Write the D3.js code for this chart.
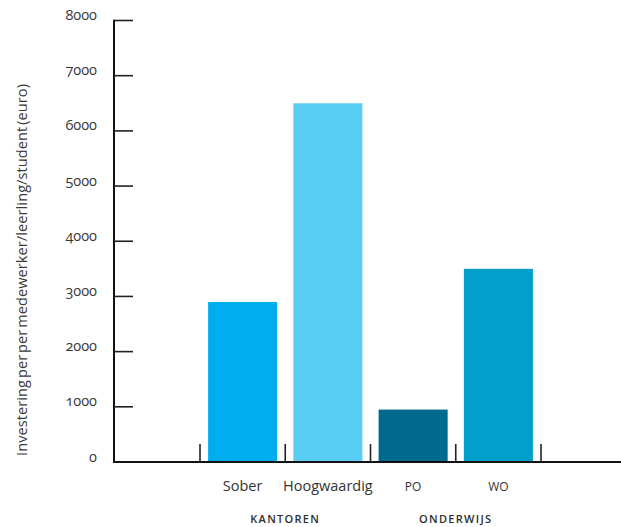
<!DOCTYPE html>
<html>
<head>
<meta charset="utf-8">
<script src="https://cdn.jsdelivr.net/npm/d3@7"></script>
<style>
  html, body { margin: 0; padding: 0; background: #fff; }
  svg { display: block; font-family: "Open Sans", sans-serif; }
</style>
</head>
<body>
<svg id="chart" width="621" height="527"></svg>
<script>
// Investment per employee / pupil / student, in euros
const categories = ["Sober", "Hoogwaardig", "PO", "WO"];
const values = [2900, 6500, 950, 3500];
const barColors = ["#00aeef", "#59cdf4", "#006a8e", "#00a0cb"];
const groups = [
  { name: "KANTOREN", members: ["Sober", "Hoogwaardig"] },
  { name: "ONDERWIJS", members: ["PO", "WO"] }
];
const yTicks = [0, 1000, 2000, 3000, 4000, 5000, 6000, 7000, 8000];
const yTitle = "Investering per per medewerker/leerling/student (euro)";

const svg = d3.select("#chart");

const axisLeft = 114, axisBottom = 462, axisTop = 20.5;

const y = d3.scaleLinear().domain([0, 8000]).range([axisBottom, axisTop]);
const x = d3.scaleBand()
  .domain(categories)
  .range([200, 541])
  .paddingInner(0.19)
  .paddingOuter(0.095);
const step = x.step();

// bars
svg.append("g").selectAll("rect")
  .data(categories)
  .join("rect")
  .attr("x", d => x(d))
  .attr("width", x.bandwidth())
  .attr("y", (d, i) => y(values[i]))
  .attr("height", (d, i) => y(0) - y(values[i]))
  .attr("fill", (d, i) => barColors[i]);

// y axis: line, inward ticks, labels
const yAxis = svg.append("g");
yAxis.append("line")
  .attr("x1", axisLeft).attr("x2", axisLeft)
  .attr("y1", y(8000) - 0.75).attr("y2", axisBottom + 1)
  .attr("stroke", "#111").attr("stroke-width", 2);
yAxis.selectAll("line.tick")
  .data(yTicks.filter(t => t > 0))
  .join("line")
  .attr("class", "tick")
  .attr("x1", axisLeft).attr("x2", 133)
  .attr("y1", d => y(d)).attr("y2", d => y(d))
  .attr("stroke", "#222").attr("stroke-width", 1.6);
yAxis.selectAll("text")
  .data(yTicks)
  .join("text")
  .attr("x", 97)
  .attr("y", d => y(d) - 0.5)
  .attr("text-anchor", "end")
  .attr("font-size", 14.5)
  .attr("fill", "#3a3a3a")
  .style("font-variant-numeric", "oldstyle-nums")
  .text(d => d);

// x axis: baseline and category dividers
const xAxis = svg.append("g");
xAxis.append("line")
  .attr("x1", axisLeft - 1).attr("x2", 621)
  .attr("y1", axisBottom).attr("y2", axisBottom)
  .attr("stroke", "#111").attr("stroke-width", 2);
xAxis.selectAll("line.divider")
  .data(d3.range(categories.length + 1))
  .join("line")
  .attr("class", "divider")
  .attr("x1", i => x.range()[0] + i * step)
  .attr("x2", i => x.range()[0] + i * step)
  .attr("y1", 444).attr("y2", axisBottom)
  .attr("stroke", "#222").attr("stroke-width", 1.6);

// category labels
xAxis.selectAll("text.cat")
  .data(categories)
  .join("text")
  .attr("class", "cat")
  .attr("x", d => x(d) + x.bandwidth() / 2)
  .attr("y", 491)
  .attr("text-anchor", "middle")
  .attr("font-size", d => d === d.toUpperCase() ? 12 : 14.5)
  .attr("fill", "#333")
  .text(d => d);

// group labels
xAxis.selectAll("text.group")
  .data(groups)
  .join("text")
  .attr("class", "group")
  .attr("x", g => x(g.members[0]) + x.bandwidth() / 2 + step / 2)
  .attr("y", 523)
  .attr("text-anchor", "middle")
  .attr("font-size", 11)
  .attr("font-weight", 600)
  .attr("letter-spacing", "1.3px")
  .attr("fill", "#2e2e2e")
  .text(g => g.name);

// y axis title
svg.append("text")
  .attr("transform", `translate(27,270) rotate(-90)`)
  .attr("text-anchor", "middle")
  .attr("font-size", 14.5)
  .attr("word-spacing", "-2px")
  .attr("textLength", 372)
  .attr("lengthAdjust", "spacing")
  .attr("fill", "#3a3a3a")
  .text(yTitle);
</script>
</body>
</html>
